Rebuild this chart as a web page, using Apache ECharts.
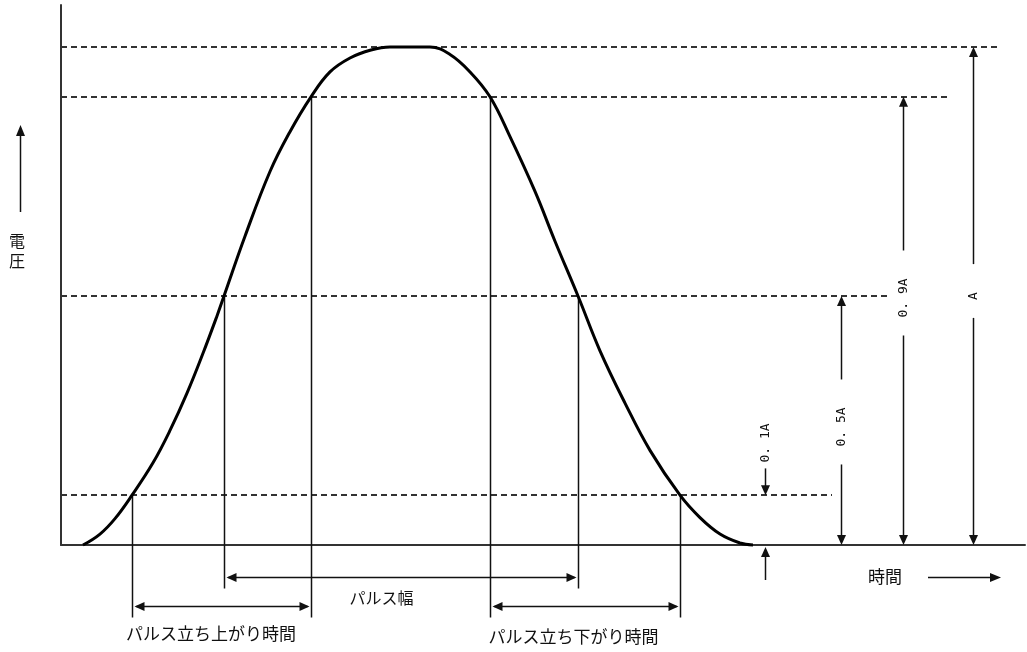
<!DOCTYPE html>
<html>
<head>
<meta charset="utf-8">
<title>パルス波形</title>
<script src="https://cdn.jsdelivr.net/npm/echarts/dist/echarts.min.js"></script>
<style>
  html, body { margin: 0; padding: 0; background: #fff; }
  #chart { width: 1027px; height: 652px; }
</style>
</head>
<body>
<div id="chart"></div>
<script>
// ---- data (time in arbitrary units, voltage as fraction of A) ----
const timeValues = [22, 39, 54, 71, 92, 109, 126, 142, 156, 163, 184, 209, 229, 250, 269, 289, 310, 329, 349, 369, 389, 409, 429, 449, 474, 494, 517, 539, 564, 589, 619, 639, 659, 679, 692];
const voltageValues = [0, 0.022, 0.053, 0.1, 0.165, 0.23, 0.305, 0.385, 0.46, 0.5, 0.62, 0.75, 0.83, 0.9, 0.95, 0.978, 0.994, 1.0, 1.0, 1.0, 0.985, 0.95, 0.9, 0.82, 0.71, 0.61, 0.5, 0.39, 0.285, 0.19, 0.1, 0.055, 0.022, 0.004, 0];

const levelValues = [1.0, 0.9, 0.5, 0.1];
const levelLabels = ['A', '0. 9A', '0. 5A', '0. 1A'];

const intervalNames = ['パルス立ち上がり時間', 'パルス幅', 'パルス立ち下がり時間'];
const intervalStartTimes = [71, 163, 429];
const intervalStartLevels = [0.1, 0.5, 0.9];
const intervalEndTimes = [250, 517, 619];
const intervalEndLevels = [0.9, 0.5, 0.1];

const axisNames = ['時間', '電圧'];

// ---- layout (positions / styles, not data) ----
const L = {
  dashEnd: [939, 889, 826, 771],        // time where each dashed guide ends
  dimX: [912, 842, 780, 704],           // time of each amplitude dimension arrow
  dimLabelAt: [0.5, 0.496, 0.237, 0.205],// voltage at which the rotated label is centred
  dimOutside: [false, false, false, true],
  arrowOffset: [61, 32, 61],            // px below baseline of interval arrows
  labelOffset: [89, 53, 92],            // px below baseline of interval labels
  labelShift: [-11, -20, -12],
  labelSize: [17, 16, 17]
};
const INK = '#111';
const CJK = '"Noto Sans CJK JP", "Noto Sans", sans-serif';

function arrowHead(tipX, tipY, dir, len, half) {
  let pts;
  if (dir === 'up') pts = [[tipX, tipY], [tipX - half, tipY + len], [tipX + half, tipY + len]];
  else if (dir === 'down') pts = [[tipX, tipY], [tipX - half, tipY - len], [tipX + half, tipY - len]];
  else if (dir === 'left') pts = [[tipX, tipY], [tipX + len, tipY - half], [tipX + len, tipY + half]];
  else pts = [[tipX, tipY], [tipX - len, tipY - half], [tipX - len, tipY + half]];
  return { type: 'polygon', shape: { points: pts }, style: { fill: INK } };
}
function seg(x1, y1, x2, y2, w) {
  return { type: 'line', shape: { x1, y1, x2, y2 }, style: { stroke: INK, lineWidth: w || 1.5 } };
}

const chart = echarts.init(document.getElementById('chart'), null, { renderer: 'canvas' });

const option = {
  animation: false,
  backgroundColor: '#fff',
  grid: { left: 61, right: 2, top: 5, bottom: 107 },
  xAxis: {
    type: 'value', min: 0, max: 964,
    axisLine: { show: true, onZero: false, lineStyle: { color: '#333', width: 2 } },
    axisTick: { show: false }, axisLabel: { show: false }, splitLine: { show: false }
  },
  yAxis: {
    type: 'value', min: 0, max: 540 / 498,
    axisLine: { show: true, onZero: false, lineStyle: { color: '#333', width: 2 } },
    axisTick: { show: false }, axisLabel: { show: false }, splitLine: { show: false }
  },
  series: [
    {
      type: 'custom',
      name: 'levels',
      clip: false,
      z: 2,
      encode: { x: 0, y: 1 },
      data: levelValues.map((v, i) => [L.dashEnd[i], v]),
      renderItem: function (params, api) {
        const p0 = api.coord([0, api.value(1)]);
        const p1 = api.coord([api.value(0), api.value(1)]);
        const y = Math.round(p0[1]);
        return {
          type: 'line',
          shape: { x1: p0[0], y1: y, x2: p1[0], y2: y },
          style: { stroke: '#333', lineWidth: 2, lineDash: [6, 4] }
        };
      }
    },
    {
      type: 'line',
      name: 'pulse',
      data: timeValues.map((t, i) => [t, voltageValues[i]]),
      smooth: 0.4,
      showSymbol: false,
      clip: false,
      z: 5,
      lineStyle: { color: '#000', width: 3 }
    },
    {
      type: 'custom',
      name: 'intervals',
      clip: false,
      z: 3,
      encode: { x: [0, 2], y: [1, 3] },
      data: intervalStartTimes.map((s, i) => [s, intervalStartLevels[i], intervalEndTimes[i], intervalEndLevels[i]]),
      renderItem: function (params, api) {
        const i = params.dataIndex;
        const pS = api.coord([api.value(0), api.value(1)]);
        const pE = api.coord([api.value(2), api.value(3)]);
        const base = api.coord([0, 0])[1];
        const ay = Math.round(base + L.arrowOffset[i]) + 0.5;
        const dy = ay + 11;
        const xs = Math.round(pS[0]) + 0.5, xe = Math.round(pE[0]) + 0.5;
        return {
          type: 'group',
          children: [
            seg(xs, pS[1], xs, dy, 1.5),
            seg(xe, pE[1], xe, dy, 1.5),
            seg(xs + 4, ay, xe - 4, ay, 1.5),
            arrowHead(xs + 2, ay, 'left', 10, 4.5),
            arrowHead(xe - 2, ay, 'right', 10, 4.5),
            {
              type: 'text',
              x: (xs + xe) / 2 + L.labelShift[i],
              y: base + L.labelOffset[i],
              style: {
                text: intervalNames[i], fill: INK,
                font: L.labelSize[i] + 'px ' + CJK,
                align: 'center', verticalAlign: 'middle',
                textAlign: 'center', textVerticalAlign: 'middle'
              }
            }
          ]
        };
      }
    },
    {
      type: 'custom',
      name: 'amplitudes',
      clip: false,
      z: 3,
      encode: { x: 0, y: 1 },
      data: levelValues.map((v, i) => [L.dimX[i], v]),
      renderItem: function (params, api) {
        const i = params.dataIndex;
        const lv = api.coord([api.value(0), api.value(1)]);
        const x = Math.round(lv[0]) + 0.5;
        const base = api.coord([0, 0])[1];
        const cy = api.coord([0, L.dimLabelAt[i]])[1];
        const half = levelLabels[i].length * 3.9;
        const kids = [];
        if (!L.dimOutside[i]) {
          kids.push(seg(x, cy - half - 28, x, lv[1] + 6, 1.5));
          kids.push(arrowHead(x, lv[1], 'up', 10, 4.5));
          kids.push(seg(x, cy + half + 18, x, base - 6, 1.5));
          kids.push(arrowHead(x, base, 'down', 10, 4.5));
        } else {
          kids.push(seg(x, cy + half + 6, x, lv[1] - 6, 1.5));
          kids.push(arrowHead(x, lv[1], 'down', 10, 4.5));
          kids.push(seg(x, base + 35, x, base + 8, 1.5));
          kids.push(arrowHead(x, base + 2, 'up', 10, 4.5));
        }
        kids.push({
          type: 'text', x: x, y: cy, rotation: Math.PI / 2,
          style: {
            text: levelLabels[i], fill: INK,
            font: '13px "DejaVu Sans Mono", monospace',
            align: 'center', verticalAlign: 'middle',
            textAlign: 'center', textVerticalAlign: 'middle'
          }
        });
        return { type: 'group', children: kids };
      }
    }
  ],
  graphic: [
    {
      type: 'text', left: 868, top: 568,
      style: { text: axisNames[0], fill: INK, font: '17px ' + CJK }
    },
    { type: 'line', shape: { x1: 928, y1: 577.5, x2: 992, y2: 577.5 }, style: { stroke: INK, lineWidth: 1.5 } },
    { type: 'polygon', shape: { points: [[1001, 577.5], [990, 573], [990, 582]] }, style: { fill: INK } },
    {
      type: 'text', left: 9, top: 231,
      style: { text: axisNames[1].split('').join('\n'), fill: INK, font: '16px ' + CJK, lineHeight: 20 }
    },
    { type: 'line', shape: { x1: 20.5, y1: 212, x2: 20.5, y2: 134 }, style: { stroke: INK, lineWidth: 1.5 } },
    { type: 'polygon', shape: { points: [[20.5, 125], [16, 136], [25, 136]] }, style: { fill: INK } }
  ]
};

chart.setOption(option);
</script>
</body>
</html>
